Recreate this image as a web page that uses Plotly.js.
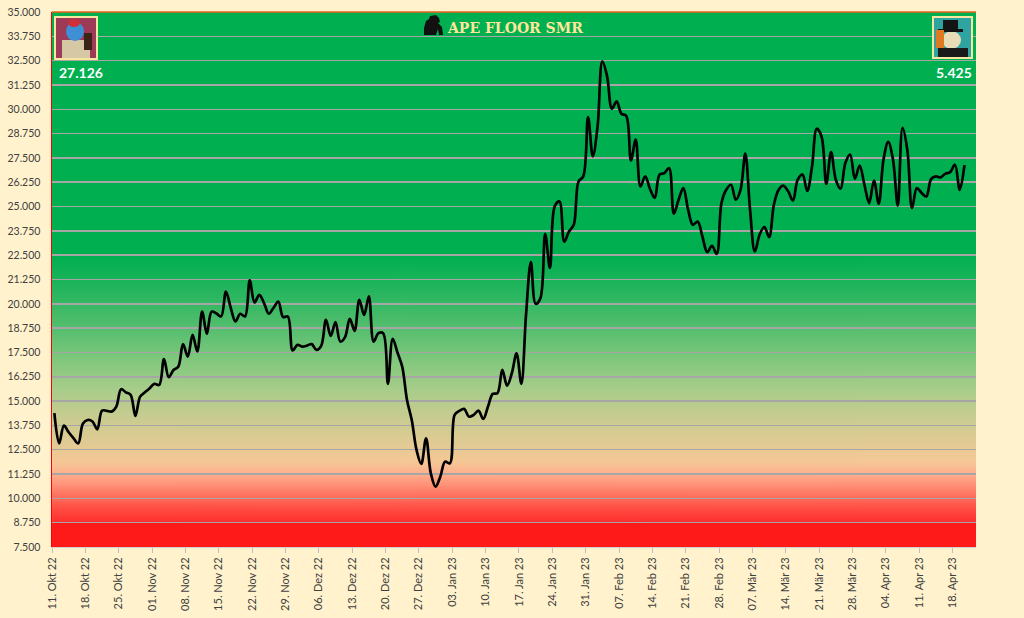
<!DOCTYPE html>
<html>
<head>
<meta charset="utf-8">
<script src="https://cdn.plot.ly/plotly-3.0.1.min.js"></script>
<style>
html, body { margin: 0; padding: 0; background: #fff2cc; }
#chart { width: 1024px; height: 618px; }
</style>
</head>
<body>
<div id="chart"></div>
<script>
// daily floor values, 11 Oct 2022 .. 20 Apr 2023
var firstDay = [2022, 9, 11];
var floorSMR = [
  14.38, 12.83, 13.74, 13.4, 13.1, 12.83, 13.85, 14.03, 13.95, 13.55,
  14.51, 14.5, 14.46, 14.72, 15.61, 15.45, 15.32, 14.24, 15.23, 15.45,
  15.66, 15.89, 15.83, 17.16, 16.23, 16.6, 16.77, 17.93, 17.29, 18.4,
  17.55, 19.6, 18.46, 19.6, 19.5, 19.35, 20.63, 19.8, 19.09, 19.49,
  19.35, 21.2, 20.07, 20.46, 20.04, 19.49, 19.8, 20.12, 19.32, 19.35,
  17.6, 17.89, 17.8, 17.85, 17.93, 17.63, 17.84, 19.18, 18.35, 19.06,
  18.06, 18.29, 19.23, 18.61, 20.21, 19.43, 20.38, 18.06, 18.49, 18.49,
  15.89, 18.2, 17.5, 16.77, 15.06, 14.03, 12.49, 11.77, 13.09, 11.29,
  10.6, 11.12, 11.89, 11.8, 14.29, 14.5, 14.6, 14.2, 14.29, 14.51,
  14.08, 14.72, 15.37, 15.41, 16.6, 15.8, 16.43, 17.46, 15.89, 19.5,
  22.15, 20.0, 20.29, 23.6, 21.84, 25.01, 25.26, 23.2, 23.72, 24.06,
  26.29, 26.55, 29.6, 27.58, 29.12, 32.46, 31.69, 30.03, 30.41, 29.77,
  29.67, 27.37, 28.44, 26.03, 26.55, 25.9, 25.44, 26.64, 26.72, 26.98,
  24.63, 25.35, 25.95, 24.84, 24.06, 24.23, 23.46, 22.66, 22.98, 22.57,
  25.18, 25.86, 26.12, 25.35, 25.86, 27.72, 24.84, 22.69, 23.55, 23.95,
  23.43, 25.09, 25.86, 26.07, 25.78, 25.31, 26.38, 26.64, 25.81, 27.06,
  29.0, 28.6, 26.17, 27.8, 26.38, 25.92, 27.24, 27.67, 26.43, 27.1,
  26.12, 25.18, 26.34, 25.15, 27.41, 28.32, 27.41, 25.04, 29.04, 27.92,
  24.92, 25.95, 25.7, 25.52, 26.41, 26.55, 26.5, 26.69, 26.77, 27.15,
  25.86, 27.126
];
var tickLabels = [
  '11. Okt 22', '18. Okt 22', '25. Okt 22', '01. Nov 22', '08. Nov 22', '15. Nov 22',
  '22. Nov 22', '29. Nov 22', '06. Dez 22', '13. Dez 22', '20. Dez 22', '27. Dez 22',
  '03. Jan 23', '10. Jan 23', '17. Jan 23', '24. Jan 23', '31. Jan 23', '07. Feb 23',
  '14. Feb 23', '21. Feb 23', '28. Feb 23', '07. Mär 23', '14. Mär 23', '21. Mär 23',
  '28. Mär 23', '04. Apr 23', '11. Apr 23', '18. Apr 23'
];
var axisRatio = 5;   // right axis = left axis / 5
var yMin = 7.5, yMax = 35;

function dayStr(k, hour) {
  var d = new Date(Date.UTC(firstDay[0], firstDay[1], firstDay[2] + k, hour));
  return d.toISOString().slice(0, 16).replace('T', ' ');
}

var xDays = floorSMR.map(function (v, i) { return dayStr(i, 12); });
var tickVals = tickLabels.map(function (t, i) { return dayStr(i * 7, 0); });

// background gradient (value -> colour), painted on a canvas
var stops = [
  [35, '#00b050'], [22.5, '#00b050'], [21, '#1eb45c'], [19.4, '#45bb68'],
  [18.1, '#66c275'], [16.9, '#86c97f'], [15.6, '#a8cd8a'], [14.4, '#c4cc90'],
  [13.1, '#dccb93'], [11.9, '#f5c896'], [11.2, '#ffad8c'], [10.0, '#ff6a5a'],
  [9.4, '#ff4a40'], [8.76, '#ff2e2e'], [8.75, '#ff1a1a'], [7.5, '#ff1a1a']
];
function gradientSource() {
  var c = document.createElement('canvas');
  c.width = 4; c.height = 1100;
  var ctx = c.getContext('2d');
  var g = ctx.createLinearGradient(0, 0, 0, c.height);
  stops.forEach(function (s) { g.addColorStop((yMax - s[0]) / (yMax - yMin), s[1]); });
  ctx.fillStyle = g;
  ctx.fillRect(0, 0, c.width, c.height);
  return c.toDataURL('image/png');
}

// pixel helpers for decorations
var M = {l: 52, r: 48, t: 12, b: 71};
var W = 1024 - M.l - M.r, H = 618 - M.t - M.b;
function px(x) { return (x - M.l) / W; }
function py(y) { return (618 - M.b - y) / H; }
function box(x0, y0, x1, y1, fill, line, kind) {
  return {type: kind || 'rect', layer: 'above', xref: 'paper', yref: 'paper',
    x0: px(x0), x1: px(x1), y0: py(y1), y1: py(y0), fillcolor: fill,
    line: line ? {color: line, width: 2} : {width: 0}};
}
function poly(pts, fill) {
  var d = pts.map(function (p, i) { return (i ? 'L' : 'M') + px(p[0]) + ',' + py(p[1]); }).join(' ') + ' Z';
  return {type: 'path', layer: 'above', xref: 'paper', yref: 'paper', path: d, fillcolor: fill, line: {width: 0}};
}

var shapes = [];
// top border
shapes.push({type: 'line', layer: 'above', xref: 'paper', yref: 'paper', x0: 0, x1: 1, y0: 1, y1: 1,
  line: {color: '#e8601c', width: 1.5}});
// left avatar
shapes.push(box(55, 17, 97, 59, '#9c3a58', '#f5e6a0'));
shapes.push(box(62, 40, 90, 58, '#d6c8a4'));
shapes.push(box(66, 22, 84, 41, '#3f8fd4', null, 'circle'));
shapes.push(box(68, 19, 80, 27, '#d0303a', null, 'circle'));
shapes.push(box(84, 33, 92, 50, '#3a2418'));
// right avatar
shapes.push(box(933, 17, 972, 58, '#2fa3a0', '#f5e6a0'));
shapes.push(box(942, 31, 961, 49, '#e9dcb8', null, 'circle'));
shapes.push(box(943, 20, 958, 31, '#141414'));
shapes.push(box(938, 29, 963, 32, '#141414'));
shapes.push(box(938, 48, 968, 57, '#1a1a1a'));
shapes.push(box(936, 30, 944, 48, '#e07a20'));
// gorilla icon
shapes.push(poly([[430, 16], [436, 15], [439, 18], [440, 22], [438, 23], [442, 27], [443, 35],
  [439, 35], [438, 29], [436, 35], [424, 35], [424, 28], [426, 21], [429, 19]], '#111111'));

var last = floorSMR[floorSMR.length - 1];

var annotations = [
  {xref: 'paper', yref: 'paper', x: px(445), y: py(28), xanchor: 'left', yanchor: 'middle',
    text: 'APE FLOOR SMR', showarrow: false,
    font: {family: 'DejaVu Serif', size: 14, color: '#ffe699', weight: 'bold'}},
  {xref: 'paper', yref: 'paper', x: px(57), y: py(72), xanchor: 'left', yanchor: 'middle',
    text: last.toFixed(3), showarrow: false,
    font: {family: 'Lato', size: 14, color: '#ffffff', weight: 'bold'}},
  {xref: 'paper', yref: 'paper', x: px(974), y: py(72), xanchor: 'right', yanchor: 'middle',
    text: (last / axisRatio).toFixed(3), showarrow: false,
    font: {family: 'Lato', size: 14, color: '#ffffff', weight: 'bold'}}
];

var trace = {
  x: xDays, y: floorSMR, type: 'scatter', mode: 'lines',
  line: {color: '#000000', width: 2.7, shape: 'spline', smoothing: 1},
  hoverinfo: 'skip'
};

var yFont = {family: 'Lato', size: 10.5, color: '#404040'};
var xFont = {family: 'Lato', size: 11, color: '#404040'};

var layout = {
  width: 1024, height: 618,
  margin: M,
  paper_bgcolor: '#fff2cc', plot_bgcolor: '#00b050',
  showlegend: false,
  xaxis: {
    type: 'date', range: ['2022-10-11 00:00', '2023-04-22 22:00'],
    tickmode: 'array', tickvals: tickVals, ticktext: tickLabels, tickangle: -90,
    ticks: 'outside', ticklen: 5, tickcolor: '#bfbfbf', tickfont: xFont,
    showgrid: false, showline: true, linecolor: '#d0d0d0', linewidth: 1, zeroline: false
  },
  yaxis: {
    range: [yMin, yMax], dtick: 1.25, tick0: yMin, tickformat: '.3f', tickfont: yFont,
    showgrid: true, gridcolor: '#a6a6a6', gridwidth: 1.5, zeroline: false,
    showline: true, linecolor: '#ff0000', linewidth: 1.5, ticklabelstandoff: 8
  },
  yaxis2: {
    overlaying: 'y', side: 'right', range: [yMin / axisRatio, yMax / axisRatio], dtick: 0.25,
    tick0: yMin / axisRatio, tickformat: '.3f', tickfont: yFont, showgrid: false, zeroline: false,
    showline: true, linecolor: '#d8602a', linewidth: 1.5, ticklabelstandoff: 10
  },
  images: [{
    source: gradientSource(), xref: 'paper', yref: 'y', x: 0, y: yMax,
    sizex: 1, sizey: yMax - yMin, sizing: 'stretch', xanchor: 'left', yanchor: 'top', layer: 'below'
  }],
  shapes: shapes,
  annotations: annotations
};

Plotly.newPlot('chart', [trace], layout, {displayModeBar: false, staticPlot: true});
</script>
</body>
</html>
